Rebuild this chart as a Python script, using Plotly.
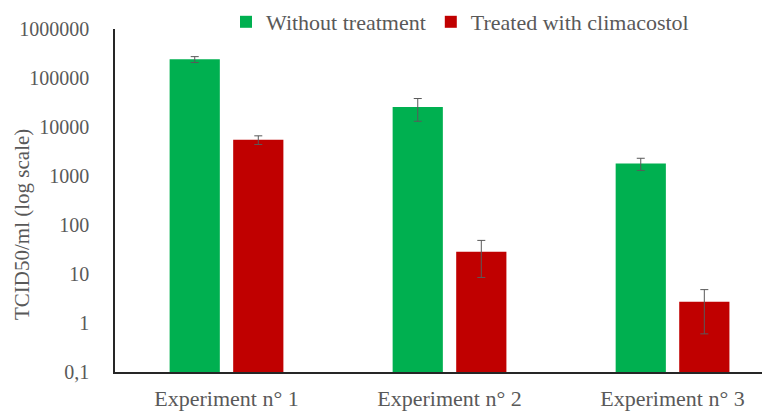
import plotly.graph_objects as go

categories = ["Experiment n° 1", "Experiment n° 2", "Experiment n° 3"]
without_treatment = [240000, 25600, 1800]
without_err = [33000, 12500, 500]
treated = [5500, 28.5, 2.7]
treated_err = [1100, 20, 2.1]
tick_values = [0.1, 1, 10, 100, 1000, 10000, 100000, 1000000]
tick_labels = ["0,1", "1", "10", "100", "1000", "10000", "100000", "1000000"]
y_title = "TCID50/ml (log scale)"

FONT = "Liberation Serif"
GREY = "#595959"

# the page body has an 8px default margin; figure is sized to fill the rest
OFF = 8
W, H = 770 - OFF, 413 - OFF
L, T, B = 115 - OFF, 29 - OFF, 41
PW, PH = W - L, H - T - B

fig = go.Figure()
fig.add_trace(go.Bar(
    x=categories, y=without_treatment, name="Without treatment",
    marker=dict(color="#00B050", line=dict(width=0)),
    error_y=dict(type="data", array=without_err, color=GREY, thickness=1, width=4),
))
fig.add_trace(go.Bar(
    x=categories, y=treated, name="Treated with climacostol",
    marker=dict(color="#C00000", line=dict(width=0)),
    error_y=dict(type="data", array=treated_err, color=GREY, thickness=1, width=4),
))

fig.update_layout(
    width=W, height=H,
    margin=dict(l=L, r=0, t=T, b=B, autoexpand=False),
    paper_bgcolor="white", plot_bgcolor="white",
    barmode="group", bargap=0.43, bargroupgap=0.21,
    font=dict(family=FONT, size=20, color=GREY),
    showlegend=True,
    legend=dict(orientation="h", xref="container", x=(460 - OFF) / W, xanchor="center",
                yref="container", y=1 - (22 - OFF) / H, yanchor="middle",
                font=dict(family=FONT, size=22, color=GREY),
                itemwidth=30, bgcolor="rgba(0,0,0,0)"),
    annotations=[dict(
        text=y_title, textangle=-90, xref="paper", yref="paper",
        x=(22 - 115) / PW, y=(372 - 225) / PH, xanchor="center", yanchor="middle",
        showarrow=False, font=dict(family=FONT, size=21, color=GREY),
    )],
)
fig.update_xaxes(
    range=[-0.5, 2.437], showline=True, linecolor="#262626", linewidth=1.5,
    showgrid=False, ticks="", tickfont=dict(family=FONT, size=22, color=GREY),
    ticklabelstandoff=6,
)
fig.update_yaxes(
    type="log", range=[-1, 6], showline=True, linecolor="#262626", linewidth=1.5,
    showgrid=False, zeroline=False, ticks="",
    tickvals=tick_values, ticktext=tick_labels,
    tickfont=dict(family=FONT, size=20, color=GREY),
    ticklabelstandoff=20,
)

fig.write_html("out.html")
